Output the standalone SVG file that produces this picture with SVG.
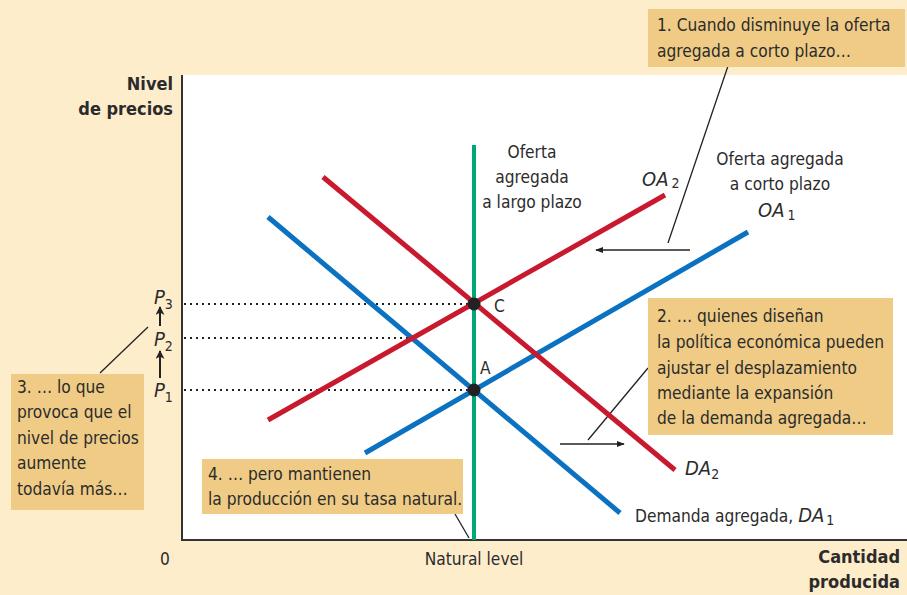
<svg xmlns="http://www.w3.org/2000/svg" width="907" height="595" viewBox="0 0 907 595">
<defs>
<style>
text{font-family:"Liberation Sans Narrow","DejaVu Sans Condensed","Roboto Condensed","Liberation Sans",sans-serif;fill:#2b2b2b;font-size:17.2px}
.b{font-weight:bold;font-size:18px}
.i{font-style:italic;font-size:20px}
.sub{font-size:14px;font-style:normal}
.box{fill:#efcb86}
.blue{stroke:#0a72c0;stroke-width:5;fill:none}
.red{stroke:#c8192f;stroke-width:5;fill:none}
.dot{stroke:#222;stroke-width:2;stroke-dasharray:2 4;fill:none}
.lead{stroke:#222;stroke-width:1.3;fill:none}
</style>
<marker id="ah" viewBox="0 0 10 10" refX="9" refY="5" markerWidth="8" markerHeight="8" markerUnits="userSpaceOnUse" orient="auto"><path d="M0,1 L10,5 L0,9 z" fill="#222"/></marker>
<marker id="ah2" viewBox="0 0 10 10" refX="9" refY="5" markerWidth="11" markerHeight="9" markerUnits="userSpaceOnUse" orient="auto"><path d="M0,0 L10,5 L0,10 L3,5 z" fill="#222"/></marker>
</defs>
<rect x="0" y="0" width="907" height="595" fill="#fdedcb"/>
<rect x="182" y="75" width="725" height="465" fill="#fff"/>
<g id="axes">
<path d="M182,75 V540 H907" stroke="#333" stroke-width="2" fill="none"/>
<text class="b" x="173" y="90" text-anchor="end">Nivel</text>
<text class="b" x="173" y="115" text-anchor="end">de precios</text>
<text class="b" x="900" y="563" text-anchor="end">Cantidad</text>
<text class="b" x="900" y="588" text-anchor="end">producida</text>
<text x="165" y="565" text-anchor="middle">0</text>
<text x="474" y="565" text-anchor="middle">Natural level</text>
</g>
<g id="connectors">
<path class="dot" d="M184,304 H474 M184,338 H413 M184,390 H474"/>
<line class="lead" x1="728" y1="66" x2="668" y2="243"/>
<line class="lead" x1="690" y1="250" x2="596" y2="250" marker-end="url(#ah)"/>
<line class="lead" x1="648" y1="368" x2="588" y2="440"/>
<line class="lead" x1="560" y1="444" x2="624" y2="444" marker-end="url(#ah)"/>
<line class="lead" x1="100" y1="373" x2="148" y2="327"/>
<line class="lead" x1="455" y1="514" x2="469" y2="538"/>
<line x1="160" y1="326" x2="160" y2="307" stroke="#222" stroke-width="2" marker-end="url(#ah2)"/>
<line x1="160" y1="378" x2="160" y2="351" stroke="#222" stroke-width="2" marker-end="url(#ah2)"/>
</g>
<g id="curves">
<line class="blue" x1="268" y1="217" x2="620" y2="513"/>
<line class="blue" x1="365" y1="453" x2="748" y2="232"/>
<line class="red" x1="268" y1="420" x2="665" y2="195"/>
<line class="red" x1="323" y1="177" x2="675" y2="470"/>
<line x1="474" y1="145" x2="474" y2="540" stroke="#00a878" stroke-width="4"/>
</g>
<g id="points">
<circle cx="474" cy="304" r="6.5" fill="#222"/>
<circle cx="474" cy="390" r="6.5" fill="#222"/>
<text x="494" y="312" font-size="18">C</text>
<text x="480" y="374" font-size="18">A</text>
</g>
<g id="plabels">
<text class="i" x="154" y="304">P<tspan class="sub" dy="5">3</tspan></text>
<text class="i" x="154" y="346">P<tspan class="sub" dy="5">2</tspan></text>
<text class="i" x="154" y="397">P<tspan class="sub" dy="5">1</tspan></text>
</g>
<g id="curve-labels">
<text x="532" y="158" text-anchor="middle">Oferta</text>
<text x="532" y="183" text-anchor="middle">agregada</text>
<text x="532" y="208" text-anchor="middle">a largo plazo</text>
<text class="i" x="642" y="186">OA<tspan class="sub" dx="3" dy="2">2</tspan></text>
<text x="780" y="165" text-anchor="middle">Oferta agregada</text>
<text x="780" y="190" text-anchor="middle">a corto plazo</text>
<text class="i" x="758" y="217">OA<tspan class="sub" dx="3" dy="3">1</tspan></text>
<text class="i" x="685" y="475">DA<tspan class="sub" dy="4">2</tspan></text>
<text x="635" y="522">Demanda agregada, <tspan class="i">DA</tspan><tspan class="sub" dx="2" dy="3">1</tspan></text>
</g>
<g id="box1">
<rect class="box" x="648" y="9" width="257" height="58"/>
<text x="657" y="31">1. Cuando disminuye la oferta</text>
<text x="657" y="57">agregada a corto plazo…</text>
</g>
<g id="box2">
<rect class="box" x="648" y="298" width="245" height="137"/>
<text x="657" y="322">2. … quienes diseñan</text>
<text x="657" y="348">la política económica pueden</text>
<text x="657" y="374">ajustar el desplazamiento</text>
<text x="657" y="399">mediante la expansión</text>
<text x="657" y="424">de la demanda agregada…</text>
</g>
<g id="box3">
<rect class="box" x="11" y="374" width="133" height="136"/>
<text x="17" y="393">3. … lo que</text>
<text x="17" y="418">provoca que el</text>
<text x="17" y="444">nivel de precios</text>
<text x="17" y="469">aumente</text>
<text x="17" y="495">todavía más…</text>
</g>
<g id="box4">
<rect class="box" x="202" y="459" width="261" height="55"/>
<text x="208" y="480">4. … pero mantienen</text>
<text x="208" y="505">la producción en su tasa natural.</text>
</g>
</svg>
